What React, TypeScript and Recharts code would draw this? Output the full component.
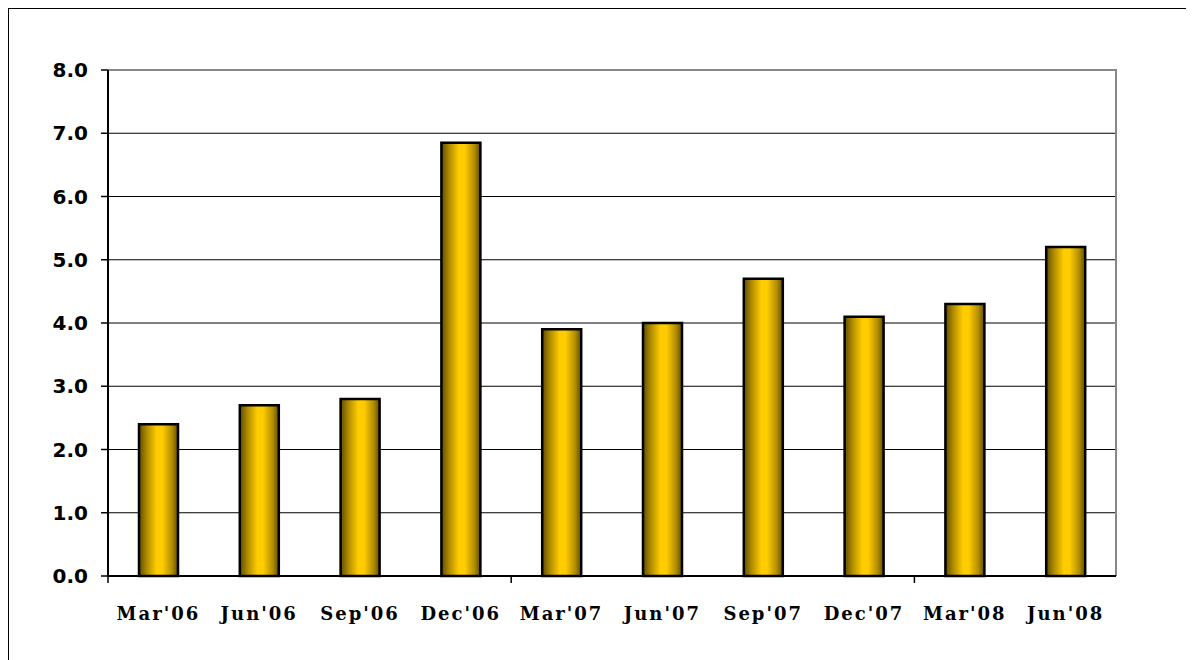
import { Bar, BarChart, CartesianGrid, XAxis, YAxis, usePlotArea } from "recharts"

// quarterly values
const quarters = ["Mar'06", "Jun'06", "Sep'06", "Dec'06", "Mar'07", "Jun'07", "Sep'07", "Dec'07", "Mar'08", "Jun'08"]
const values = [2.4, 2.7, 2.8, 6.85, 3.9, 4.0, 4.7, 4.1, 4.3, 5.2]
const yTicks = [0, 1, 2, 3, 4, 5, 6, 7, 8]

const data = quarters.map((q, i) => ({ name: q, value: values[i] }))

// gray frame on top/right plus x tick marks on every 4th category boundary
function PlotFrame() {
  const area = usePlotArea()
  if (!area) return null
  const { x, y, width, height } = area
  const bandW = width / quarters.length
  const bottom = y + height
  const marks = []
  for (let i = 0; i <= quarters.length; i += 4) {
    marks.push(<line key={i} x1={x + i * bandW} x2={x + i * bandW} y1={bottom} y2={bottom + 7} stroke="#000" strokeWidth={1.5} />)
  }
  return (
    <g>
      <polyline points={`${x},${y} ${x + width},${y} ${x + width},${bottom}`} fill="none" stroke="#888" strokeWidth={2} />
      {marks}
    </g>
  )
}

export default function App() {
  return (
    <div
      style={{
        width: 1186,
        height: 652,
        borderTop: '1.5px solid #000',
        borderLeft: '1.5px solid #000',
        boxSizing: 'border-box',
        background: '#fff',
      }}
    >
      <BarChart
        width={1185}
        height={651}
        data={data}
        margin={{ top: 61, right: 78, left: 0, bottom: 22 }}
      >
        <defs>
          <linearGradient id="gold" x1="0" y1="0" x2="1" y2="0">
            <stop offset="0%" stopColor="#5e4c00" />
            <stop offset="20%" stopColor="#b08c00" />
            <stop offset="45%" stopColor="#ffcc00" />
            <stop offset="60%" stopColor="#ffcc00" />
            <stop offset="85%" stopColor="#b08c00" />
            <stop offset="100%" stopColor="#5e4c00" />
          </linearGradient>
        </defs>
        <CartesianGrid vertical={false} stroke="#000" strokeWidth={1} />
        <XAxis
          dataKey="name"
          height={62}
          tickLine={false}
          axisLine={{ stroke: '#000', strokeWidth: 2 }}
          interval={0}
          tickMargin={25}
          tick={{ fill: '#000', fontSize: 18, fontWeight: 'bold', fontFamily: '"DejaVu Serif", serif', letterSpacing: 2 }}
        />
        <YAxis
          width={99}
          domain={[0, 8]}
          ticks={yTicks}
          tickFormatter={(v: number) => v.toFixed(1)}
          axisLine={{ stroke: '#000', strokeWidth: 2 }}
          tickLine={{ stroke: '#000', strokeWidth: 1.5 }}
          tickSize={7}
          tickMargin={13}
          tick={{ fill: '#000', fontSize: 20, fontWeight: 'bold', fontFamily: '"DejaVu Sans", Verdana, sans-serif' }}
        />
        <Bar dataKey="value" fill="url(#gold)" stroke="#000" strokeWidth={2.5} barSize={39} isAnimationActive={false} />
        <PlotFrame />
      </BarChart>
    </div>
  )
}
